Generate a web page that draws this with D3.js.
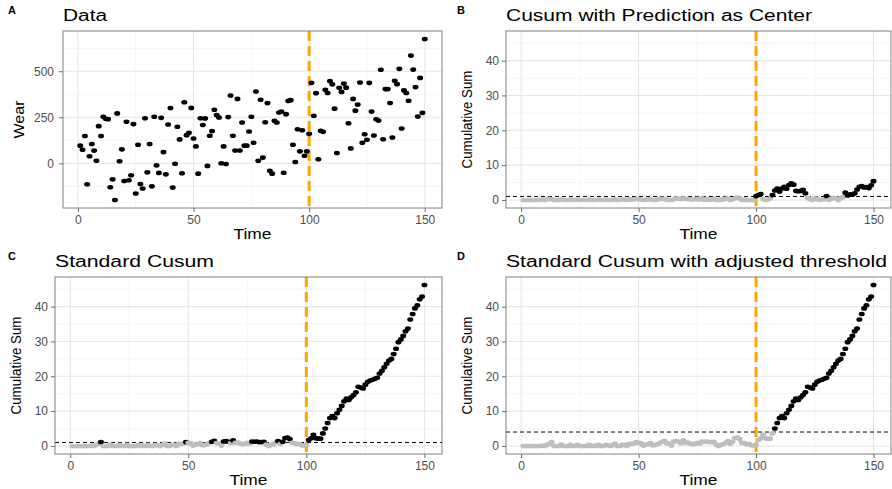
<!DOCTYPE html>
<html>
<head>
<meta charset="utf-8">
<script src="https://cdn.jsdelivr.net/npm/d3@7"></script>
<style>
  html, body { margin: 0; padding: 0; background: #ffffff; }
  svg { display: block; font-family: "Liberation Sans", Arial, Helvetica, sans-serif; }
</style>
</head>
<body>
<svg id="chart" width="892" height="489"></svg>
<script>
// ---------------- DATA ----------------
const time = d3.range(1, 151);

const wear = [
  96, 74, 148, -114, 38, 105, 69, 14, 202, 148,
  253, 242, 240, -130, -87, -199, 271, 11, 76, -96,
  226, -92, -65, 213, -164, 101, -112, -137, 245, -49,
  105, -125, 253, -11, -52, 247, 61, -60, 211, 300,
  -132, -2, 199, 130, -54, 332, 153, 166, 301, 135,
  92, -56, 245, 208, 244, -14, 150, 175, 291, 262,
  249, 0, 92, -4, 251, 368, 150, 70, 350, 70,
  222, 96, 96, 173, 253, 112, 390, 14, 345, 31,
  223, 327, -40, -56, 231, 222, 276, 281, -51, 267,
  339, 343, 101, 7, 185, 65, 180, 41, 65, 160,
  437, 258, 381, 22, 177, 171, 399, 382, 447, 429,
  297, 56, 410, 388, 433, 411, 218, 81, 350, 286,
  319, 439, 112, 158, 128, 437, 281, 151, 239, 232,
  508, 131, 403, 403, 328, 140, 448, 430, 513, 189,
  396, 382, 340, 585, 509, 414, 254, 464, 274, 675
];

const cusumPrediction = [
  0, 0, 0, 0, 0, 0, 0, 0, 0.1, 0,
  0.2, 0.3, 0.2, 0, 0, 0, 0.2, 0, 0, 0,
  0.1, 0, 0, 0.1, 0, 0, 0, 0, 0.1, 0,
  0, 0, 0.1, 0, 0, 0.1, 0, 0, 0, 0.2,
  0, 0, 0.1, 0.1, 0, 0.2, 0.1, 0.2, 0.3, 0.2,
  0.1, 0, 0.1, 0.1, 0.2, 0, 0, 0.1, 0.3, 0.3,
  0.3, 0, 0, 0, 0.2, 0.5, 0.4, 0.2, 0.5, 0.3,
  0.3, 0.2, 0.1, 0.2, 0.3, 0.1, 0.5, 0, 0.3, 0,
  0.1, 0.3, 0, 0, 0.1, 0.1, 0.3, 0.4, 0, 0.2,
  0.5, 0.7, 0.4, 0, 0.1, 0, 0, 0, 0, 1.1,
  1.4, 1.7, 0.3, 0, 0.1, 0.4, 1.4, 2.7, 3.3, 2.4,
  3.3, 3.8, 3.2, 4.3, 4.8, 4.4, 2.6, 2.5, 2.6, 2.9,
  1.9, 0.6, 0.2, 0, 0.5, 0.3, 0, 0.1, 0.2, 1.1,
  0, 0.3, 0.6, 0.5, 0, 0.5, 0.8, 2.1, 1.3, 1.6,
  1.5, 1.9, 3.0, 3.8, 4.0, 3.6, 3.7, 3.4, 4.2, 5.4
];

const cusumStandard = [
  0, 0, 0, 0, 0, 0, 0, 0, 0.1, 0,
  0.3, 0.6, 1.1, 0, 0, 0, 0.4, 0, 0, 0,
  0.3, 0, 0, 0.3, 0, 0, 0, 0, 0.3, 0,
  0.1, 0, 0.3, 0, 0, 0.3, 0.2, 0, 0.3, 0.7,
  0, 0, 0.3, 0.3, 0, 0.6, 0.6, 0.7, 1.1, 0.9,
  0.8, 0.1, 0.4, 0.5, 0.8, 0.2, 0.3, 0.5, 0.9, 1.2,
  1.5, 0.8, 0.7, 0.1, 1.3, 1.4, 1.2, 0.8, 1.6, 0.9,
  1.0, 0.7, 0.5, 0.6, 0.9, 0.7, 1.3, 1.2, 1.3, 1.1,
  1.1, 1.2, 0.4, 0, 0.3, 0.5, 0.9, 1.4, 0.6, 1.2,
  2.3, 2.4, 2.0, 0.9, 0.8, 0.5, 0.6, 0.2, 0.1, 0.3,
  1.7, 2.2, 3.2, 2.2, 2.1, 2.1, 3.6, 5.0, 6.6, 8.0,
  8.6, 8.0, 9.4, 10.4, 11.5, 12.8, 13.6, 13.2, 14.0, 14.6,
  15.4, 17.0, 16.8, 16.5, 17.6, 18.4, 18.8, 19.0, 19.3, 19.6,
  20.8, 21.6, 22.6, 23.6, 24.5, 25.0, 26.4, 27.9, 29.8, 30.6,
  31.6, 32.9, 33.7, 36.3, 37.9, 39.5, 40.4, 42.1, 42.9, 46.2
];

const thresholdPrediction = 1;
const thresholdStandard = 1;
const thresholdAdjusted = 4;
const changePoint = 100;

const xTicks = [0, 50, 100, 150];
const xMinorTicks = [25, 75, 125];
const wearTicks = [0, 250, 500];
const wearMinorTicks = [-125, 125, 375, 625];
const cusumTicks = [0, 10, 20, 30, 40];
const cusumMinorTicks = [5, 15, 25, 35, 45];

const panelTitles = ["Data", "Cusum with Prediction as Center", "Standard Cusum", "Standard Cusum with adjusted threshold"];
const panelTags = ["A", "B", "C", "D"];

// ---------------- DRAW ----------------
const svg = d3.select("#chart");

function expand(ext) {
  const pad = (ext[1] - ext[0]) * 0.05;
  return [ext[0] - pad, ext[1] + pad];
}
const xDomain = expand(d3.extent(time));
const wearDomain = expand(d3.extent(wear));
const cusumDomain = expand([0, d3.max(cusumStandard)]);

function label(g, txt, x, y, size, len, opts = {}) {
  const t = g.append("text").attr("x", x).attr("y", y)
    .attr("font-size", size).attr("fill", opts.fill || "#000")
    .attr("text-anchor", opts.anchor || "start")
    .text(txt);
  if (opts.bold) t.attr("font-weight", "bold");
  if (len) t.attr("textLength", len).attr("lengthAdjust", "spacingAndGlyphs");
  if (opts.rotate) t.attr("transform", `rotate(-90,${x},${y})`);
  return t;
}

function panel(cfg) {
  const g = svg.append("g");
  const x = d3.scaleLinear().domain(xDomain).range([cfg.left, cfg.right]);
  const y = d3.scaleLinear().domain(cfg.yDomain).range([cfg.bottom, cfg.top]);

  // grid
  const grid = g.append("g");
  cfg.yMinor.forEach(v => grid.append("line")
    .attr("x1", cfg.left).attr("x2", cfg.right).attr("y1", y(v)).attr("y2", y(v))
    .attr("stroke", "#f0f0f0").attr("stroke-width", 0.7));
  xMinorTicks.forEach(v => grid.append("line")
    .attr("y1", cfg.top).attr("y2", cfg.bottom).attr("x1", x(v)).attr("x2", x(v))
    .attr("stroke", "#f0f0f0").attr("stroke-width", 0.7));
  cfg.yTicks.forEach(v => grid.append("line")
    .attr("x1", cfg.left).attr("x2", cfg.right).attr("y1", y(v)).attr("y2", y(v))
    .attr("stroke", "#e6e6e6").attr("stroke-width", 1.1));
  xTicks.forEach(v => grid.append("line")
    .attr("y1", cfg.top).attr("y2", cfg.bottom).attr("x1", x(v)).attr("x2", x(v))
    .attr("stroke", "#e6e6e6").attr("stroke-width", 1.1));

  // axes
  const xAxis = g.append("g").attr("transform", `translate(0,${cfg.bottom})`)
    .call(d3.axisBottom(x).tickValues(xTicks).tickSize(4).tickPadding(3).tickFormat(d3.format("d")));
  const yAxis = g.append("g").attr("transform", `translate(${cfg.left},0)`)
    .call(d3.axisLeft(y).tickValues(cfg.yTicks).tickSize(4).tickPadding(cfg.yPad).tickFormat(d3.format("d")));
  [xAxis, yAxis].forEach(a => {
    a.select(".domain").remove();
    a.selectAll(".tick line").attr("stroke", "#555").attr("stroke-width", 0.9);
    a.selectAll(".tick text").attr("fill", "#4d4d4d").attr("font-size", 12)
      .attr("font-family", "Liberation Sans, Arial, sans-serif");
  });

  // change point
  g.append("line").attr("x1", x(changePoint)).attr("x2", x(changePoint))
    .attr("y1", cfg.top).attr("y2", cfg.bottom)
    .attr("stroke", "#FFA500").attr("stroke-width", 3).attr("stroke-dasharray", "10,5");

  // threshold
  if (cfg.threshold !== undefined) {
    g.append("line").attr("x1", cfg.left).attr("x2", cfg.right)
      .attr("y1", y(cfg.threshold)).attr("y2", y(cfg.threshold))
      .attr("stroke", "#000").attr("stroke-width", 1).attr("stroke-dasharray", "4,3");
  }

  // points
  g.append("g").selectAll("ellipse").data(cfg.values).join("ellipse")
    .attr("cx", (d, i) => x(time[i]))
    .attr("cy", d => y(d))
    .attr("rx", 3).attr("ry", 2.3)
    .attr("fill", d => (cfg.threshold === undefined || d > cfg.threshold) ? "#000" : "#bebebe");

  // border
  g.append("rect").attr("x", cfg.left).attr("y", cfg.top)
    .attr("width", cfg.right - cfg.left).attr("height", cfg.bottom - cfg.top)
    .attr("fill", "none").attr("stroke", "#808080").attr("stroke-width", 1);

  // texts
  label(g, cfg.tag, cfg.tagX, cfg.top - 17, 11, null, { bold: true });
  label(g, cfg.title, cfg.left, cfg.top - 10.5, 16, cfg.titleLen);
  label(g, "Time", (cfg.left + cfg.right) / 2, cfg.bottom + 31, 15, 38, { anchor: "middle" });
  label(g, cfg.yLabel, cfg.yLabelX, (cfg.top + cfg.bottom) / 2, cfg.yLabelSize, cfg.yLabelLen, { anchor: "middle", rotate: true });
}

panel({ left: 63, right: 442, top: 31, bottom: 208, yDomain: wearDomain,
  yTicks: wearTicks, yMinor: wearMinorTicks, values: wear, yPad: 5,
  tag: panelTags[0], tagX: 8, title: panelTitles[0], titleLen: 44,
  yLabel: "Wear", yLabelX: 24, yLabelSize: 15, yLabelLen: 38 });

panel({ left: 506, right: 891, top: 31, bottom: 208, yDomain: cusumDomain,
  yTicks: cusumTicks, yMinor: cusumMinorTicks, values: cusumPrediction, yPad: 3,
  threshold: thresholdPrediction,
  tag: panelTags[1], tagX: 457, title: panelTitles[1], titleLen: 306,
  yLabel: "Cumulative Sum", yLabelX: 472, yLabelSize: 15, yLabelLen: 98 });

panel({ left: 55, right: 442, top: 277, bottom: 454, yDomain: cusumDomain,
  yTicks: cusumTicks, yMinor: cusumMinorTicks, values: cusumStandard, yPad: 3,
  threshold: thresholdStandard,
  tag: panelTags[2], tagX: 8, title: panelTitles[2], titleLen: 159,
  yLabel: "Cumulative Sum", yLabelX: 21, yLabelSize: 15, yLabelLen: 98 });

panel({ left: 506, right: 891, top: 277, bottom: 454, yDomain: cusumDomain,
  yTicks: cusumTicks, yMinor: cusumMinorTicks, values: cusumStandard, yPad: 3,
  threshold: thresholdAdjusted,
  tag: panelTags[3], tagX: 457, title: panelTitles[3], titleLen: 381,
  yLabel: "Cumulative Sum", yLabelX: 472, yLabelSize: 15, yLabelLen: 98 });
</script>
</body>
</html>
